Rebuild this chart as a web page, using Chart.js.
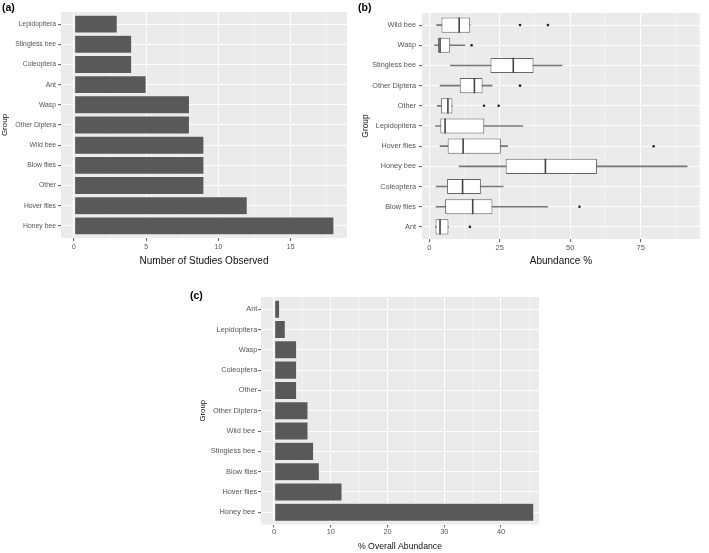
<!DOCTYPE html>
<html>
<head>
<meta charset="utf-8">
<script src="https://cdn.jsdelivr.net/npm/chart.js@4"></script>
<style>
  body { margin: 0; background: #fff; }
  #wrap { position: relative; width: 709px; height: 553px; }
  canvas { position: absolute; }
</style>
</head>
<body>
<div id="wrap">
  <canvas id="chartA" width="355" height="275" style="left:0;top:0"></canvas>
  <canvas id="chartB" width="354" height="275" style="left:355px;top:0"></canvas>
  <canvas id="chartC" width="370" height="273" style="left:180px;top:280px"></canvas>
</div>
<script>
// (a) number of studies per group (top to bottom)
const studyGroups = ["Lepidopitera", "Stingless bee", "Coleoptera", "Ant", "Wasp", "Other Diptera", "Wild bee", "Blow flies", "Other", "Hover flies", "Honey bee"]
const studyCounts = [3, 4, 4, 5, 8, 8, 9, 9, 9, 12, 18]

// (b) abundance % boxplots (top to bottom)
const boxGroups = ["Wild bee", "Wasp", "Stingless bee", "Other Diptera", "Other", "Lepidopitera", "Hover flies", "Honey bee", "Coleoptera", "Blow flies", "Ant"]
const whiskerLow = [2.6, 1.9, 7.5, 3.8, 2.8, 2.2, 3.8, 10.6, 2.4, 2.4, 2.1]
const boxQ1 = [4.3, 3.1, 21.7, 10.8, 4.1, 3.9, 6.5, 27.1, 6.3, 5.6, 2.2]
const boxMedian = [10.6, 3.8, 29.8, 16.0, 6.6, 5.6, 12.0, 41.2, 11.8, 15.4, 3.8]
const boxQ3 = [14.5, 7.4, 37.0, 18.9, 8.2, 19.5, 25.4, 59.5, 18.3, 22.4, 6.8]
const whiskerHigh = [14.5, 12.6, 47.1, 22.3, 8.2, 33.2, 27.8, 91.5, 26.2, 42.0, 6.8]
const outlierGroups = ["Wild bee", "Wild bee", "Wasp", "Other Diptera", "Other", "Other", "Hover flies", "Blow flies", "Ant"]
const outlierValues = [32.2, 42.1, 15.0, 32.2, 19.4, 24.6, 79.6, 53.3, 14.4]

// (c) % overall abundance (top to bottom)
const overallGroups = ["Ant", "Lepidopitera", "Wasp", "Coleoptera", "Other", "Other Diptera", "Wild bee ", "Stingless bee ", "Blow flies", "Hover flies", "Honey bee "]
const overallValues = [1, 2, 4, 4, 4, 6, 6, 7, 8, 12, 45.8]

Chart.defaults.font.family = "'Liberation Sans', Arial, Helvetica, sans-serif"
Chart.defaults.animation = false

// grey ggplot panel + the (a)/(b)/(c) tag
const panelPlugin = {
  id: 'panel',
  beforeDraw(chart, args, opts) {
    const { ctx, chartArea } = chart
    ctx.save()
    ctx.fillStyle = '#EBEBEB'
    ctx.fillRect(chartArea.left, chartArea.top, chartArea.right - chartArea.left, chartArea.bottom - chartArea.top)
    ctx.restore()
  },
  afterDraw(chart, args, opts) {
    const ctx = chart.ctx
    ctx.save()
    ctx.font = "bold 10.5px 'Liberation Sans', Arial, sans-serif"
    ctx.fillStyle = '#000'
    ctx.textBaseline = 'middle'
    ctx.fillText(opts.tag, opts.x, opts.y)
    ctx.restore()
  }
}

function valueScale(min, max, step, every, tickSize, tickPad, title, titleSize, titlePad, height) {
  const isMajor = (c) => c.tick && Math.abs(c.tick.value % every) < 1e-6
  return {
    type: 'linear',
    min: min,
    max: max,
    offset: false,
    afterFit: (s) => { s.height = height },
    border: { display: false },
    grid: {
      offset: false,
      color: (c) => isMajor(c) ? '#ffffff' : 'rgba(255,255,255,0.7)',
      lineWidth: (c) => isMajor(c) ? 1.1 : 0.55,
      tickColor: (c) => isMajor(c) ? '#666' : 'rgba(0,0,0,0)',
      tickLength: 3
    },
    ticks: {
      stepSize: step,
      includeBounds: false,
      autoSkip: false,
      maxRotation: 0,
      padding: tickPad,
      color: '#555',
      font: { size: tickSize },
      callback: (v) => Math.abs(v % every) < 1e-6 ? v : ''
    },
    title: { display: true, text: title, color: '#111', font: { size: titleSize }, padding: { top: 0, bottom: titlePad } }
  }
}

function groupScale(labels, width, tickSize, tickPad, titleSize, titlePad) {
  return {
    type: 'linear',
    reverse: true,
    min: -0.6,
    max: labels.length - 0.4,
    offset: false,
    afterFit: (s) => { s.width = width },
    border: { display: false },
    grid: { offset: false, color: '#ffffff', lineWidth: 1.1, tickColor: '#666', tickLength: 3 },
    ticks: {
      stepSize: 1,
      includeBounds: false,
      autoSkip: false,
      padding: tickPad,
      color: '#555',
      font: { size: tickSize },
      callback: (v) => labels[Math.round(v)]
    },
    title: { display: true, text: 'Group', color: '#111', font: { size: titleSize }, padding: { top: titlePad, bottom: 0 } }
  }
}

const baseOptions = (padding, tag, scales) => ({
  responsive: false,
  devicePixelRatio: 1,
  layout: { padding: padding },
  plugins: { legend: { display: false }, tooltip: { enabled: false }, panel: tag },
  scales: scales
})

// (a)
new Chart(document.getElementById('chartA'), {
  type: 'bar',
  data: {
    datasets: [{
      indexAxis: 'y',
      data: studyCounts.map((v, i) => ({ x: v, y: i })),
      backgroundColor: '#595959',
      borderColor: '#f4f4f4',
      borderWidth: 0.6,
      borderSkipped: false,
      barPercentage: 0.9,
      categoryPercentage: 1
    }]
  },
  options: Object.assign(baseOptions({ left: 0, right: 8, top: 12, bottom: 0 }, { tag: '(a)', x: 2, y: 8 }, {
    x: valueScale(-0.9, 18.9, 2.5, 5, 6.9, 1.5, 'Number of Studies Observed', 10, 8, 37),
    y: groupScale(studyGroups, 61, 6.8, 2, 8, 0)
  }), { indexAxis: 'y' }),
  plugins: [panelPlugin]
})

// (b)
const boxes = boxGroups.map((g, i) => ({ x: [boxQ1[i], boxQ3[i]], y: i }))
const whiskers = boxGroups.map((g, i) => ({ x: [whiskerLow[i], whiskerHigh[i]], y: i }))
const medians = boxGroups.map((g, i) => ({ x: boxMedian[i], y: i }))
const outliers = outlierGroups.map((g, i) => ({ x: outlierValues[i], y: boxGroups.indexOf(g) }))

new Chart(document.getElementById('chartB'), {
  type: 'bar',
  data: {
    datasets: [
      { type: 'scatter', data: outliers, pointRadius: 1.3, pointBackgroundColor: '#222', pointBorderWidth: 0, order: 0 },
      { type: 'scatter', data: medians, pointStyle: 'line', pointRotation: 90, pointRadius: 7.6, pointBorderColor: '#444', pointBorderWidth: 1.6, order: 1 },
      { type: 'bar', indexAxis: 'y', grouped: false, data: boxes, backgroundColor: '#ffffff', borderColor: '#666', borderWidth: 1, borderSkipped: false, barPercentage: 0.75, categoryPercentage: 1, order: 2 },
      { type: 'bar', indexAxis: 'y', grouped: false, data: whiskers, backgroundColor: '#777', borderWidth: 0, barThickness: 1, order: 3 }
    ]
  },
  options: baseOptions({ left: 0, right: 0, top: 13, bottom: 0 }, { tag: '(b)', x: 3, y: 8 }, {
    x: valueScale(-2.6, 96, 12.5, 25, 7.5, 1.8, 'Abundance %', 10, 8, 36),
    y: groupScale(boxGroups, 67, 7.3, 3, 8.4, 5.5)
  }),
  plugins: [panelPlugin]
})

// (c)
new Chart(document.getElementById('chartC'), {
  type: 'bar',
  data: {
    datasets: [{
      indexAxis: 'y',
      data: overallValues.map((v, i) => ({ x: v, y: i })),
      backgroundColor: '#595959',
      borderColor: '#f4f4f4',
      borderWidth: 0.6,
      borderSkipped: false,
      barPercentage: 0.9,
      categoryPercentage: 1
    }]
  },
  options: Object.assign(baseOptions({ left: 0, right: 11, top: 17, bottom: 0 }, { tag: '(c)', x: 10, y: 16 }, {
    x: valueScale(-2.3, 46.7, 5, 10, 7.4, 0, '% Overall Abundance', 8.7, 0.8, 28.5),
    y: groupScale(overallGroups, 81, 7.4, 0.7, 7.8, 18.6)
  }), { indexAxis: 'y' }),
  plugins: [panelPlugin]
})
</script>
</body>
</html>
